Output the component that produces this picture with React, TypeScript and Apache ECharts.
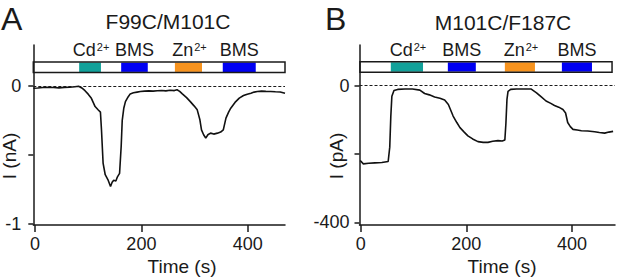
import React, { useEffect, useRef } from "react";
import * as echarts from "echarts";

// ---------- data ----------
const timeA = [-3, 5, 15, 25, 35, 45, 55, 65, 75, 82, 88, 94, 100, 106, 113, 119, 123, 125, 128, 132, 137, 142, 145, 148, 152, 155, 159, 162, 164, 167, 170, 175, 179, 185, 192, 198, 206, 214, 222, 230, 238, 246, 254, 262, 267, 272, 277, 285, 292, 299, 305, 310, 313, 317, 321, 325, 330, 336, 343, 349, 354, 359, 364, 368, 376, 384, 392, 399, 406, 412, 418, 426, 434, 443, 452, 461, 470];
const currentA_nA = [-0.017, -0.015, -0.012, -0.01, -0.012, -0.014, -0.011, -0.009, -0.006, -0.003, -0.015, -0.035, -0.06, -0.09, -0.15, -0.175, -0.19, -0.32, -0.56, -0.645, -0.68, -0.73, -0.7, -0.685, -0.69, -0.66, -0.635, -0.44, -0.25, -0.16, -0.114, -0.08, -0.058, -0.05, -0.045, -0.041, -0.038, -0.036, -0.038, -0.035, -0.033, -0.036, -0.032, -0.034, -0.028, -0.04, -0.058, -0.085, -0.114, -0.145, -0.174, -0.246, -0.319, -0.355, -0.379, -0.355, -0.343, -0.35, -0.343, -0.335, -0.319, -0.234, -0.19, -0.162, -0.12, -0.089, -0.07, -0.06, -0.053, -0.045, -0.041, -0.038, -0.04, -0.041, -0.043, -0.044, -0.053];

const timeB = [-1, 5, 15, 27, 40, 52, 55, 57, 59, 63, 70, 84, 98, 112, 121, 130, 140, 150, 159, 166, 175, 182, 188, 196, 203, 212, 222, 232, 241, 250, 260, 268, 273, 275, 277, 279, 284, 295, 310, 323, 333, 342, 351, 360, 367, 375, 383, 388, 392, 397, 402, 410, 418, 430, 443, 452, 462, 470, 478];
const currentB_pA = [-219, -229, -227, -226, -225, -222, -180, -90, -31, -14, -11, -10, -10, -13, -23, -27, -33, -37, -42, -55, -89, -108, -123, -136, -147, -156, -164, -166, -166, -163, -161, -162, -159, -110, -40, -17, -11, -10, -10, -10, -21, -33, -45, -52, -58, -63, -70, -80, -108, -120, -128, -130, -132, -133, -135, -137, -139, -136, -134];

const solutionNames = ["Cd", "BMS", "Zn", "BMS"];
const solutionCharges = ["2+", "", "2+", ""];
const stimStartA = [83, 162, 263, 353];
const stimEndA = [124, 212, 314, 415];
const stimStartB = [57, 165, 273, 381];
const stimEndB = [118, 218, 330, 438];
const stimSpanA = [-3.2, 470];
const stimSpanB = [-1.5, 476];

const titles = ["F99C/M101C", "M101C/F187C"];
const panelLetters = ["A", "B"];
const yNames = ["I (nA)", "I (pA)"];
const xName = "Time (s)";
const xTicks = [0, 200, 400];
const yTicksA = [-1, -0.5, 0];
const yLabelsA = [-1, 0];
const yTicksB = [-400, -200, 0];
const yLabelsB = [-400, 0];

// ---------- style ----------
const FONT = "'Liberation Sans', Arial, Helvetica, sans-serif";
const INK = "#1a1a1a";
const solutionColors = ["#12a19a", "#0000f2", "#f7931e", "#0000f2"];

const segRender = (starts: number[], ends: number[]) => (params: any, api: any) => {
  const i = params.dataIndex;
  const p0 = api.coord([starts[i], 0]);
  const p1 = api.coord([ends[i], 0]);
  const y0 = p0[1];
  const top = y0 - 23.3;
  const bottom = y0 - 14;
  const name = solutionNames[i];
  const ch = solutionCharges[i];
  return {
    type: "group",
    children: [
      {
        type: "rect",
        shape: { x: p0[0], y: top, width: p1[0] - p0[0], height: bottom - top },
        style: { fill: solutionColors[i] },
      },
      {
        type: "text",
        x: (p0[0] + p1[0]) / 2 + (ch ? 1 : 0),
        y: y0 - 36,
        style: {
          text: ch ? `${name}{s|${ch}}` : name,
          fontSize: 18,
          fontFamily: FONT,
          fill: INK,
          align: "center",
          verticalAlign: "middle",
          lineHeight: 18,
          rich: {
            s: { fontSize: 11, fontFamily: FONT, fill: INK, verticalAlign: "top", lineHeight: 12, padding: [1, 0, 0, 1] },
          },
        },
      },
    ],
  };
};

const outlineRender = (span: number[]) => (params: any, api: any) => {
  const p0 = api.coord([span[0], 0]);
  const p1 = api.coord([span[1], 0]);
  const y0 = p0[1];
  return {
    type: "rect",
    shape: { x: p0[0], y: y0 - 24, width: p1[0] - p0[0], height: 10.6 },
    style: { fill: "none", stroke: INK, lineWidth: 1.5 },
  };
};

const axisLineStyle = { color: INK, width: 1.5 };

const makeX = (gridIndex: number, min: number, max: number) => ({
  type: "value",
  gridIndex,
  min,
  max,
  axisLine: { show: true, onZero: false, lineStyle: axisLineStyle },
  axisTick: { show: true, customValues: xTicks, length: 7, lineStyle: axisLineStyle },
  axisLabel: { customValues: xTicks, fontSize: 18, fontFamily: FONT, color: INK, margin: 10 },
  splitLine: { show: false },
});

const makeY = (gridIndex: number, min: number, max: number, ticks: number[], labels: number[], margin: number) => ({
  type: "value",
  gridIndex,
  min,
  max,
  axisLine: { show: true, onZero: false, lineStyle: axisLineStyle },
  axisTick: { show: true, customValues: ticks, length: 5, lineStyle: axisLineStyle },
  axisLabel: { customValues: labels, fontSize: 18, fontFamily: FONT, color: INK, margin },
  splitLine: { show: false },
});

const zeroLine = {
  silent: true,
  symbol: "none",
  label: { show: false },
  lineStyle: { color: INK, type: [3, 2], width: 1.2 },
  data: [{ yAxis: 0 }],
};

const txt = (text: string, x: number, y: number, fontSize: number, align = "center", rotation = 0, lineHeight?: number) => ({
  type: "text",
  x,
  y,
  rotation,
  style: { text, fontSize, fontFamily: FONT, fill: INK, align, verticalAlign: "middle", lineHeight: lineHeight ?? fontSize },
});

export default function App() {
  const ref = useRef<HTMLDivElement>(null);
  useEffect(() => {
    if (!ref.current) return;
    const chart = echarts.init(ref.current, undefined, { renderer: "svg" });
    chart.setOption({
      animation: false,
      backgroundColor: "#ffffff",
      grid: [
        { left: 33.3, top: 45, width: 251.7, height: 180, containLabel: false, outerBoundsMode: "none" },
        { left: 359.5, top: 45, width: 255.5, height: 180, containLabel: false, outerBoundsMode: "none" },
      ],
      xAxis: [makeX(0, -3.2, 470), makeX(1, -2.3, 481.6)],
      yAxis: [
        makeY(0, -1.01, 0.297, yTicksA, yLabelsA, 12),
        makeY(1, -408, 119, yTicksB, yLabelsB, 10),
      ],
      series: [
        {
          type: "line",
          xAxisIndex: 0,
          yAxisIndex: 0,
          data: timeA.map((t, i) => [t, currentA_nA[i]]),
          showSymbol: false,
          lineStyle: { color: "#111", width: 1.6 },
          markLine: zeroLine,
          z: 3,
        },
        {
          type: "line",
          xAxisIndex: 1,
          yAxisIndex: 1,
          data: timeB.map((t, i) => [t, currentB_pA[i]]),
          showSymbol: false,
          lineStyle: { color: "#111", width: 1.6 },
          markLine: zeroLine,
          z: 3,
        },
        {
          type: "custom",
          xAxisIndex: 0,
          yAxisIndex: 0,
          data: stimStartA.map((s, i) => [s, stimEndA[i]]),
          renderItem: segRender(stimStartA, stimEndA),
          clip: false,
          z: 4,
        },
        {
          type: "custom",
          xAxisIndex: 1,
          yAxisIndex: 1,
          data: stimStartB.map((s, i) => [s, stimEndB[i]]),
          renderItem: segRender(stimStartB, stimEndB),
          clip: false,
          z: 4,
        },
        {
          type: "custom",
          xAxisIndex: 0,
          yAxisIndex: 0,
          data: [stimSpanA],
          renderItem: outlineRender(stimSpanA),
          clip: false,
          z: 5,
        },
        {
          type: "custom",
          xAxisIndex: 1,
          yAxisIndex: 1,
          data: [stimSpanB],
          renderItem: outlineRender(stimSpanB),
          clip: false,
          z: 5,
        },
      ],
      graphic: [
        txt(panelLetters[0], 1, 18.5, 32, "left", 0, 30),
        txt(panelLetters[1], 325, 18.5, 32, "left", 0, 30),
        txt(titles[0], 168, 21, 21),
        txt(titles[1], 503, 22, 21),
        txt(yNames[0], 9, 156, 19, "center", Math.PI / 2),
        txt(yNames[1], 336, 156, 19, "center", Math.PI / 2),
        txt(xName, 182, 266, 19),
        txt(xName, 502, 266, 19),
      ],
    });
    return () => chart.dispose();
  }, []);
  return (
    <div
      ref={ref}
      style={{ position: "absolute", left: 0, top: 0, width: 617, height: 280, background: "#fff" }}
    />
  );
}
